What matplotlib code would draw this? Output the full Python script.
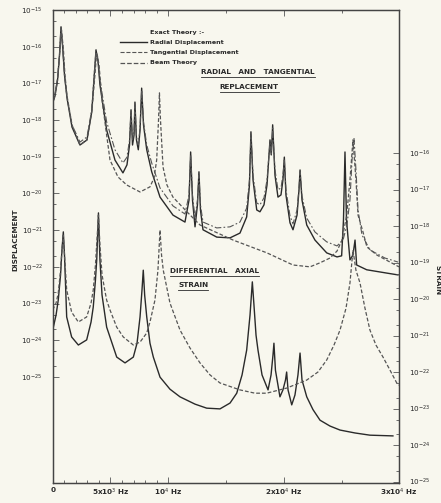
import matplotlib

matplotlib.use("Agg")

import matplotlib.pyplot as plt
import numpy as np
from matplotlib.lines import Line2D
from matplotlib.ticker import FixedLocator, NullFormatter

# ---- digitised curves: frequency in kHz, log10 of amplitude ----
# upper group, left axis (displacement)
radial_khz = [0.00, 0.20, 0.42, 0.59, 0.72, 0.85, 1.02, 1.24, 1.67, 2.36, 2.97, 3.38, 3.57, 3.75, 3.92,
              4.09, 4.67, 5.39, 6.08, 6.43, 6.65, 6.78, 6.91, 7.04, 7.12, 7.25, 7.41, 7.56, 7.70, 7.86,
              8.14, 8.57, 9.29, 10.41, 11.45, 11.80, 11.94, 12.10, 12.32, 12.53, 12.66, 12.79, 13.01,
              14.20, 15.35, 16.21, 16.79, 17.03, 17.16, 17.34, 17.66, 17.94, 18.29, 18.55, 18.81, 18.92,
              19.04, 19.24, 19.50, 19.76, 19.93, 20.05, 20.19, 20.54, 20.80, 21.15, 21.32, 21.41, 21.58,
              21.99, 22.70, 23.72, 24.61, 25.01, 25.17, 25.30, 25.43, 25.73, 25.99, 26.17, 26.31, 27.18,
              28.91, 29.89]
radial_log = [-17.53, -17.34, -16.91, -16.23, -15.46, -15.95, -16.77, -17.40, -18.19, -18.68, -18.54,
              -17.78, -16.91, -16.09, -16.39, -17.04, -18.27, -19.09, -19.44, -19.22, -18.68, -17.72,
              -18.68, -18.41, -17.51, -18.54, -18.81, -18.27, -17.13, -18.13, -18.81, -19.41, -20.10,
              -20.59, -20.78, -20.18, -18.87, -20.18, -20.91, -20.31, -19.41, -20.45, -20.99, -21.19,
              -21.21, -21.08, -20.64, -19.77, -18.32, -19.63, -20.45, -20.50, -20.31, -19.77, -18.54,
              -18.95, -18.13, -19.50, -20.10, -20.04, -19.63, -19.01, -20.04, -20.80, -20.99, -20.59,
              -19.90, -19.36, -20.18, -20.86, -21.27, -21.62, -21.73, -21.70, -20.72, -18.87, -20.72,
              -21.81, -21.68, -21.27, -21.95, -22.08, -22.17, -22.22]

tangential_khz = [0.00, 0.20, 0.42, 0.59, 0.72, 0.85, 1.02, 1.24, 1.67, 2.36, 2.97, 3.38, 3.57, 3.75, 3.92,
                  4.09, 4.67, 5.39, 6.08, 6.43, 6.65, 6.78, 6.91, 7.04, 7.12, 7.25, 7.41, 7.56, 7.70, 7.86,
                  8.14, 8.57, 9.29, 10.41, 11.45, 11.80, 11.94, 12.10, 12.32, 12.53, 12.66, 12.79, 13.01,
                  14.20, 15.35, 16.21, 16.79, 17.03, 17.16, 17.34, 17.66, 17.94, 18.29, 18.55, 18.81,
                  18.92, 19.04, 19.24, 19.50, 19.76, 19.93, 20.05, 20.19, 20.54, 20.80, 21.15, 21.32,
                  21.41, 21.58, 21.99, 22.70, 23.72, 24.61, 25.13, 25.47, 25.73, 25.91, 26.08, 26.25,
                  26.43, 26.77, 27.46, 28.76, 29.89]
tangential_log = [-17.53, -17.34, -16.91, -16.23, -15.46, -15.95, -16.77, -17.40, -18.13, -18.60, -18.46,
                  -17.72, -16.85, -16.09, -16.36, -16.91, -18.05, -18.81, -19.17, -19.01, -18.54, -17.78,
                  -18.54, -18.32, -17.56, -18.46, -18.68, -18.22, -17.18, -18.05, -18.68, -19.17, -19.85,
                  -20.34, -20.56, -20.04, -18.95, -20.04, -20.67, -20.18, -19.50, -20.31, -20.78, -20.94,
                  -20.91, -20.78, -20.40, -19.63, -18.41, -19.50, -20.26, -20.31, -20.12, -19.63, -18.60,
                  -18.95, -18.22, -19.36, -19.90, -19.85, -19.50, -19.09, -19.90, -20.61, -20.83, -20.45,
                  -19.85, -19.41, -20.07, -20.67, -21.05, -21.32, -21.43, -21.27, -20.86, -20.18, -19.09,
                  -18.49, -19.36, -20.45, -21.13, -21.54, -21.76, -21.87]

beam_disp_khz = [0.00, 0.20, 0.42, 0.59, 0.76, 0.93, 1.06, 1.24, 1.67, 2.36, 2.97, 3.40, 3.62, 3.79, 3.86,
                 4.01, 4.27, 4.67, 4.96, 5.65, 6.41, 7.56, 8.42, 8.77, 9.00, 9.16, 9.24, 9.33, 9.55, 9.89,
                 10.41, 11.62, 12.75, 15.61, 18.55, 20.80, 22.27, 23.14, 24.00, 24.61, 25.04, 25.45,
                 25.73, 25.99, 26.25, 26.43, 26.86, 27.20, 28.07, 29.20, 29.97]
beam_disp_log = [-17.45, -17.29, -16.85, -16.23, -15.54, -16.09, -16.77, -17.34, -18.13, -18.68, -18.54,
                 -17.72, -16.91, -16.23, -16.23, -16.50, -17.45, -18.41, -19.09, -19.55, -19.77, -19.96,
                 -19.82, -19.58, -19.09, -18.00, -17.26, -18.00, -19.28, -19.77, -20.10, -20.50, -20.86,
                 -21.27, -21.62, -21.95, -22.00, -21.89, -21.76, -21.57, -21.27, -20.59, -19.63, -18.54,
                 -19.63, -20.59, -21.05, -21.46, -21.68, -21.87, -22.00]

# lower group, right axis (differential axial strain)
strain_khz = [0.00, 0.29, 0.48, 0.68, 0.80, 0.92, 1.02, 1.21, 1.64, 2.22, 2.94, 3.32, 3.51, 3.70, 3.81,
              3.96, 4.09, 4.27, 4.67, 5.54, 6.26, 6.98, 7.30, 7.56, 7.73, 7.84, 7.96, 8.14, 8.42, 8.71,
              9.29, 10.15, 11.02, 12.32, 13.33, 14.48, 15.35, 15.93, 16.39, 16.79, 17.08, 17.28, 17.42,
              17.60, 17.77, 18.12, 18.64, 18.90, 19.07, 19.15, 19.28, 19.67, 19.93, 20.15, 20.25, 20.37,
              20.69, 20.97, 21.23, 21.41, 21.58, 21.99, 22.53, 23.14, 24.00, 24.87, 26.17, 27.46, 29.45]
strain_log = [-20.85, -20.44, -20.03, -19.34, -18.66, -18.16, -18.79, -20.49, -21.04, -21.26, -21.12,
              -20.63, -20.22, -19.48, -18.93, -17.64, -18.93, -19.89, -20.77, -21.59, -21.75, -21.59,
              -21.21, -20.49, -19.75, -19.21, -19.89, -20.49, -21.21, -21.59, -22.14, -22.47, -22.68,
              -22.88, -22.99, -23.01, -22.85, -22.58, -22.08, -21.40, -20.44, -19.53, -20.16, -20.99,
              -21.40, -22.08, -22.49, -22.08, -21.53, -21.21, -21.95, -22.68, -22.49, -22.22, -22.00,
              -22.49, -22.90, -22.63, -22.08, -21.48, -22.22, -22.68, -23.03, -23.32, -23.48, -23.59,
              -23.67, -23.73, -23.75]

beam_strain_khz = [0.00, 0.29, 0.48, 0.68, 0.80, 0.92, 1.02, 1.21, 1.64, 2.22, 2.94, 3.32, 3.51, 3.70,
                   3.83, 3.96, 4.09, 4.27, 4.67, 4.96, 5.54, 6.11, 6.98, 7.56, 8.14, 8.42, 8.85, 9.11,
                   9.29, 9.42, 9.57, 10.15, 11.02, 11.88, 12.75, 13.62, 14.48, 16.21, 17.51, 18.52, 20.25,
                   21.99, 22.96, 23.72, 24.35, 24.87, 25.39, 25.73, 25.99, 26.25, 26.60, 27.03, 27.46,
                   27.98, 28.59, 29.20, 29.78, 30.00]
beam_strain_log = [-20.30, -20.11, -19.84, -19.21, -18.66, -18.25, -18.79, -19.75, -20.36, -20.63, -20.49,
                   -20.11, -19.75, -19.07, -18.38, -17.70, -18.52, -19.34, -20.03, -20.30, -20.77, -21.04,
                   -21.26, -21.18, -20.93, -20.63, -20.03, -19.21, -18.11, -18.79, -19.21, -20.11, -20.85,
                   -21.34, -21.75, -22.08, -22.30, -22.49, -22.58, -22.58, -22.44, -22.22, -22.00, -21.67,
                   -21.26, -20.85, -20.25, -19.56, -18.66, -19.21, -19.56, -20.25, -20.85, -21.26, -21.59,
                   -21.95, -22.30, -22.36]

# axis ticks
disp_decades = list(range(-15, -26, -1))
strain_decades = list(range(-16, -26, -1))
freq_ticks = [0, 5000, 10000, 20000, 30000]
freq_labels = ["0", "5x10$^3$ Hz", "10$^4$ Hz", "2x10$^4$ Hz", "3x10$^4$ Hz"]
freq_minor = [1000, 2000, 3000, 4000, 6000, 7000, 8000, 9000, 15000, 25000]

INK = "#2a2a2a"
PAPER = "#f8f7ee"
LAB = dict(fontsize=5.2, fontweight="bold", color=INK)


def hz(khz):
    return np.asarray(khz) * 1000.0


def amp(logs):
    return 10.0 ** np.asarray(logs)


def log_ticks(ax, decades, top_lim):
    major = [10.0 ** d for d in decades]
    minor = [m * 10.0 ** d for d in decades[1:] for m in (2, 5)]
    ax.yaxis.set_major_locator(FixedLocator(major))
    ax.yaxis.set_minor_locator(FixedLocator(minor))
    ax.yaxis.set_minor_formatter(NullFormatter())
    ax.set_yticklabels([r"$10^{%d}$" % d for d in decades])


def underline(fig, txt, gap=2.0):
    fig.canvas.draw()
    bb = txt.get_window_extent().transformed(fig.transFigure.inverted())
    y = bb.y0 - gap / fig.bbox.height
    fig.add_artist(Line2D([bb.x0, bb.x1], [y, y], transform=fig.transFigure, lw=0.6, color=INK))


fig = plt.figure(figsize=(4.41, 5.03), dpi=100, facecolor=PAPER)
ax = fig.add_axes([0.1195, 0.0398, 0.7859, 0.9404])
ax.set_facecolor(PAPER)
ax2 = ax.twinx()

# displacement curves
l_rad, = ax.semilogy(hz(radial_khz), amp(radial_log), color=INK, lw=1.0)
l_tan, = ax.semilogy(hz(tangential_khz), amp(tangential_log), color="#555555", lw=0.8,
                     dashes=(6, 2, 1.5, 2))
l_beam, = ax.semilogy(hz(beam_disp_khz), amp(beam_disp_log), color="#555555", lw=0.9, dashes=(3, 1.6))

# strain curves
ax2.semilogy(hz(strain_khz), amp(strain_log), color=INK, lw=1.0)
ax2.semilogy(hz(beam_strain_khz), amp(beam_strain_log), color="#555555", lw=0.9, dashes=(3, 1.6))

ax.set_xlim(0, 30000)
ax.set_ylim(10 ** -27.89, 1e-15)
ax2.set_ylim(10 ** -25.04, 10 ** -12.08)

log_ticks(ax, disp_decades, -15)
log_ticks(ax2, strain_decades, -16)

ax.set_xticks(freq_ticks)
ax.set_xticklabels(freq_labels)
ax.xaxis.set_minor_locator(FixedLocator(freq_minor))

for a in (ax, ax2):
    a.tick_params(which="both", direction="in", color="#555555", width=0.6, labelsize=5.2,
                  labelcolor=INK)
    a.tick_params(which="major", length=4)
    a.tick_params(which="minor", length=2.5)
    for s in a.spines.values():
        s.set_color("#444444")
        s.set_linewidth(0.9)
ax.tick_params(axis="x", which="both", top=True, pad=3)
ax.tick_params(axis="y", pad=7)
ax2.tick_params(axis="y", pad=7)
for t in ax.get_yticklabels() + ax2.get_yticklabels() + ax.get_xticklabels():
    t.set_fontweight("bold")

fig.text(0.034, 0.523, "DISPLACEMENT", rotation=90, ha="center", va="center", **LAB)
fig.text(0.991, 0.443, "STRAIN", rotation=270, ha="center", va="center", **LAB)

# legend drawn by hand, as on the original sheet
ax.text(0.281, 0.953, "Exact Theory :-", transform=ax.transAxes, ha="left", va="center", fontsize=4.6,
        fontweight="bold", color=INK)
rows = [(l_rad, "Radial Displacement", 0.932), (l_tan, "Tangential Displacement", 0.911),
        (l_beam, "Beam Theory", 0.888)]
for line, label, yy in rows:
    ax.add_line(Line2D([0.194, 0.272], [yy, yy], transform=ax.transAxes, color=line.get_color(),
                       lw=line.get_linewidth(), linestyle=line.get_linestyle()))
    ax.text(0.281, yy, label, transform=ax.transAxes, ha="left", va="center", fontsize=4.6,
            fontweight="bold", color=INK)

t1 = ax.text(0.592, 0.869, "RADIAL   AND   TANGENTIAL", transform=ax.transAxes, ha="center",
             va="center", **LAB)
t2 = ax.text(0.567, 0.837, "REPLACEMENT", transform=ax.transAxes, ha="center", va="center", **LAB)
t3 = ax.text(0.468, 0.448, "DIFFERENTIAL   AXIAL", transform=ax.transAxes, ha="center", va="center",
             **LAB)
t4 = ax.text(0.405, 0.419, "STRAIN", transform=ax.transAxes, ha="center", va="center", **LAB)
for t in (t1, t2, t3, t4):
    underline(fig, t)

fig.savefig("out.png", dpi=100, facecolor=PAPER)
